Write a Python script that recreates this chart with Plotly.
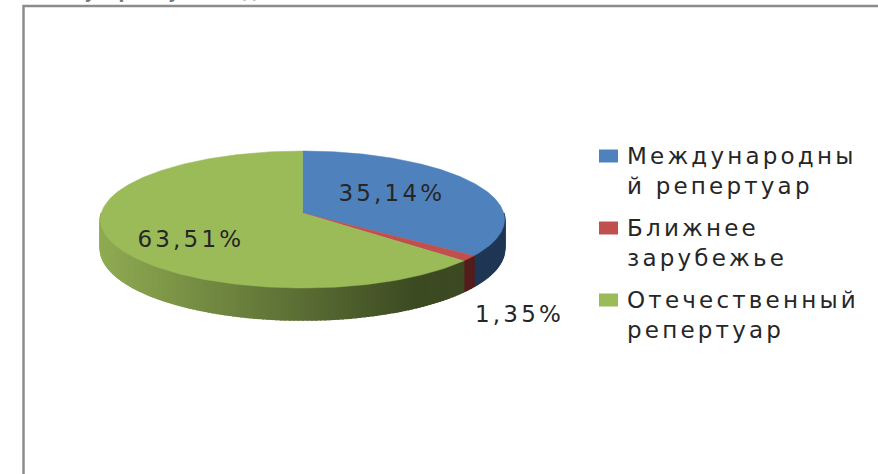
import numpy as np
import plotly.graph_objects as go

categories = ["Международны<br>й репертуар", "Ближнее<br>зарубежье", "Отечественный<br>репертуар"]
values = [35.14, 1.35, 63.51]
value_labels = ["35,14%", "1,35%", "63,51%"]
top_colors = ["#4F81BD", "#C0504D", "#9BBB59"]
wall_light = ["#2A4569", "#6A2524", "#8FAB52"]
wall_dark = ["#1C3250", "#4E1B1A", "#3C4A22"]

CX, CY, A, B, K, D = 302.5, 213.0, 201.2, 67.9, 0.095, 29.0


def project(ang, depth=0.0):
    X, Y = np.sin(ang), -np.cos(ang)
    w = 1 - K * Y
    return CX + A * X / w, CY + B * Y / w + depth / w


def mix(c1, c2, t):
    a = [int(c1[i:i + 2], 16) for i in (1, 3, 5)]
    b = [int(c2[i:i + 2], 16) for i in (1, 3, 5)]
    return "rgb(%d,%d,%d)" % tuple(round(p + (q - p) * t) for p, q in zip(a, b))


fig = go.Figure()
edges = np.cumsum([0] + values) / 100 * 2 * np.pi

# side walls
for i in range(3):
    a0, a1 = edges[i], edges[i + 1]
    lo, hi = max(a0, np.pi / 2), min(a1, 1.5 * np.pi)
    if hi <= lo:
        continue
    steps = max(2, int((hi - lo) / 0.02))
    grid = np.linspace(lo, hi, steps + 1)
    for s in range(steps):
        seg = np.linspace(grid[s], grid[s + 1], 3)
        x1, y1 = project(seg)
        x2, y2 = project(seg[::-1], D)
        if i == 2:
            xm = (x1.mean() - 100) / 405
            col = mix(wall_light[i], wall_dark[i], min(1.0, xm / 0.78))
        else:
            col = mix(wall_dark[i], wall_light[i], 0.2)
        fig.add_trace(go.Scatter(x=np.r_[x1, x2, x1[0]], y=np.r_[y1, y2, y1[0]], mode="lines",
                                 fill="toself", fillcolor=col, line=dict(color=col, width=1.6),
                                 hoverinfo="skip", showlegend=False))

# top faces
for i in range(3):
    arc = np.linspace(edges[i], edges[i + 1], 240)
    x, y = project(arc)
    fig.add_trace(go.Scatter(x=np.r_[CX, x, CX], y=np.r_[CY, y, CY], mode="lines", fill="toself",
                             fillcolor=top_colors[i], line=dict(color=top_colors[i], width=0.5),
                             hoverinfo="skip", showlegend=False))

FONT = dict(family="DejaVu Sans", size=23, color="#262626")
label_pos = [(392, 193), (519, 314), (191, 239)]
for t, (x, y) in zip(value_labels, label_pos):
    fig.add_annotation(x=x, y=y, xref="x", yref="y", text=t, showarrow=False, font=FONT)

# legend: swatch and two-line label per category
legend_rows = [156, 228, 300]
for c, col, ry in zip(categories, top_colors, legend_rows):
    fig.add_shape(type="rect", xref="x", yref="y", x0=599, x1=618, y0=ry - 6.5, y1=ry + 6.5,
                  fillcolor=col, line=dict(width=0))
    fig.add_annotation(x=625, y=ry - 15, xref="x", yref="y", xanchor="left", yanchor="top",
                       align="left", text=c, showarrow=False, font=FONT)

# cropped heading above the frame
fig.add_annotation(x=47, y=1.016, xref="x", yref="paper", xanchor="left", yanchor="middle", showarrow=False,
                   text="<b>популярному наследию</b>", font=dict(family="DejaVu Sans", size=17, color="#777777"))

# frame
fig.add_shape(type="line", xref="x", yref="y", x0=23, y0=6, x1=878, y1=6, line=dict(color="#8C8C8C", width=2.5))
fig.add_shape(type="line", xref="x", yref="y", x0=23.5, y0=5, x1=23.5, y1=474, line=dict(color="#8C8C8C", width=2.5))

fig.update_layout(
    width=878, height=474, margin=dict(l=0, r=0, t=0, b=0),
    paper_bgcolor="white", plot_bgcolor="white", showlegend=False,
    xaxis=dict(range=[0, 878], visible=False, fixedrange=True),
    yaxis=dict(range=[474, 0], visible=False, fixedrange=True),
)

fig.write_html("out.html", config={"displayModeBar": False}, post_script=(
    "document.body.style.margin='0';"
    "document.querySelectorAll('.annotation text').forEach(function(t){"
    "if(t.textContent.indexOf('наслед')<0){t.style.letterSpacing='3.2px';}});"
))
